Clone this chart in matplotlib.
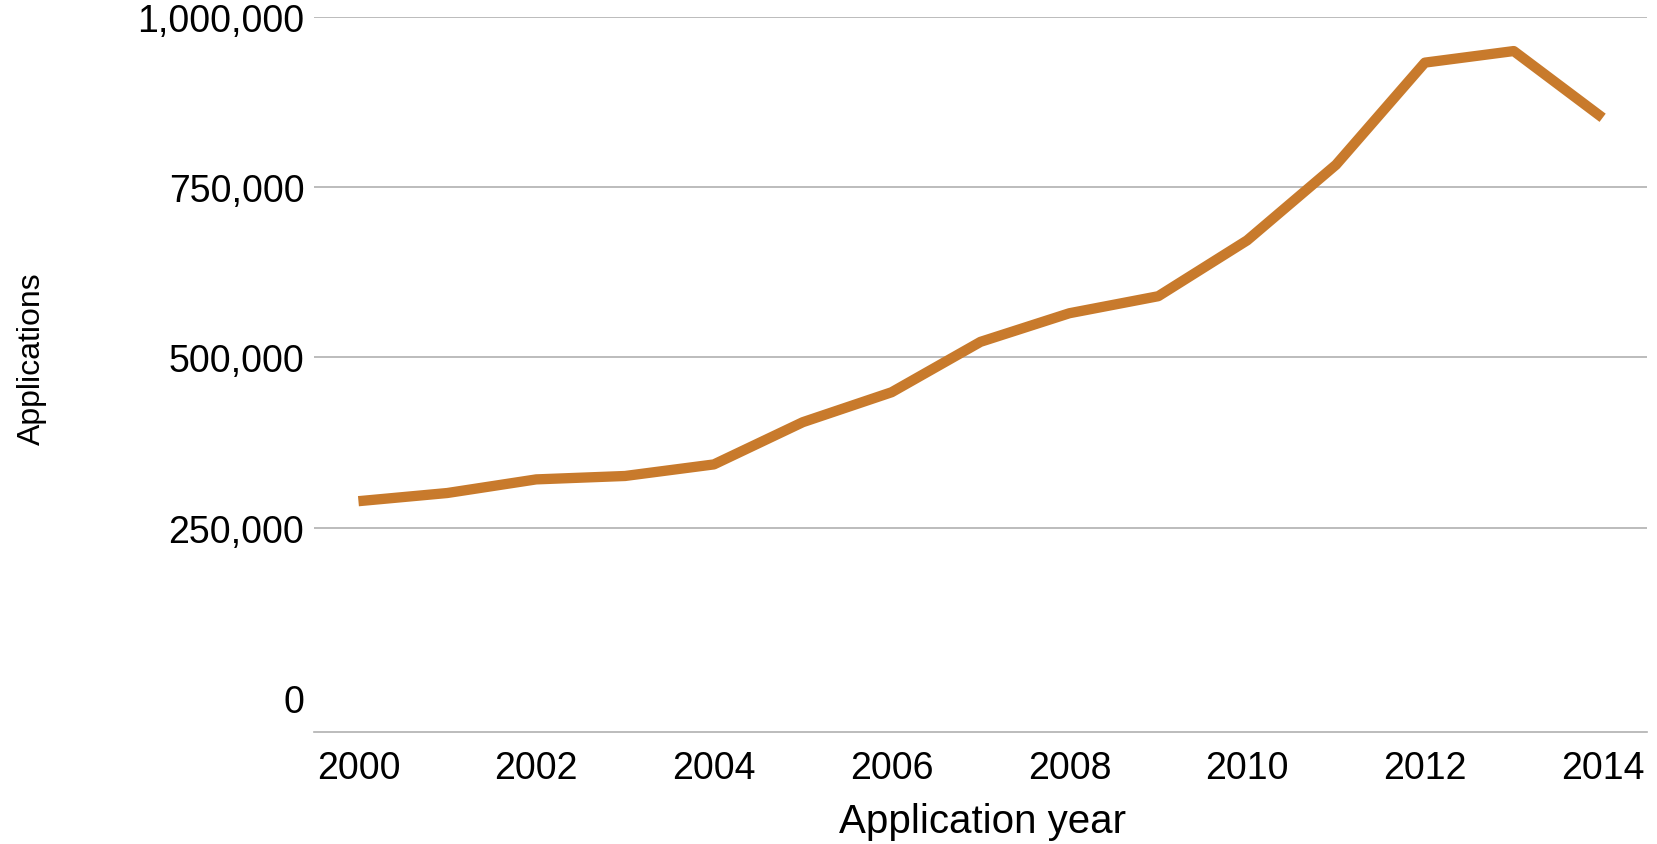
import matplotlib.pyplot as plt
from matplotlib.ticker import FuncFormatter

years = [2000, 2001, 2002, 2003, 2004, 2005, 2006, 2007,
         2008, 2009, 2010, 2011, 2012, 2013, 2014]
applications = [289000, 301000, 321000, 326000, 343000, 405000, 449000, 523000,
                565000, 590000, 672000, 783000, 933000, 950000, 852000]
y_ticks = [0, 250000, 500000, 750000, 1000000]
x_ticks = [2000, 2002, 2004, 2006, 2008, 2010, 2012, 2014]

plt.rcParams['font.family'] = ['Liberation Sans', 'DejaVu Sans']

fig = plt.figure(figsize=(16.57, 8.45), dpi=100)
ax = fig.add_axes([0.1895, 0.1325, 0.8045, 0.8462])

ax.plot(years, applications, color='#c87a2c', linewidth=7.4, solid_capstyle='butt')

ax.set_xlim(1999.5, 2014.5)
ax.set_ylim(-50000, 1000000)
ax.set_xticks(x_ticks)
ax.set_yticks(y_ticks)
ax.yaxis.set_major_formatter(FuncFormatter(lambda v, p: f'{int(v):,}'))

# gridlines everywhere except at zero
for v in y_ticks[1:]:
	ax.axhline(v, color='#b0b0b0', linewidth=1.2, zorder=0)

for s in ['left', 'right', 'top']:
	ax.spines[s].set_visible(False)
ax.spines['bottom'].set_color('#b0b0b0')
ax.spines['bottom'].set_linewidth(1.2)

ax.tick_params(axis='y', length=0, pad=7, labelsize=27)
ax.tick_params(axis='x', length=0, pad=13, labelsize=27)

fig.text(0.019, 0.576, 'Applications', rotation=90, ha='center', va='center', fontsize=23)
fig.text(0.593, 0.027, 'Application year', ha='center', va='center', fontsize=29)

fig.savefig('out.png', dpi=100)
